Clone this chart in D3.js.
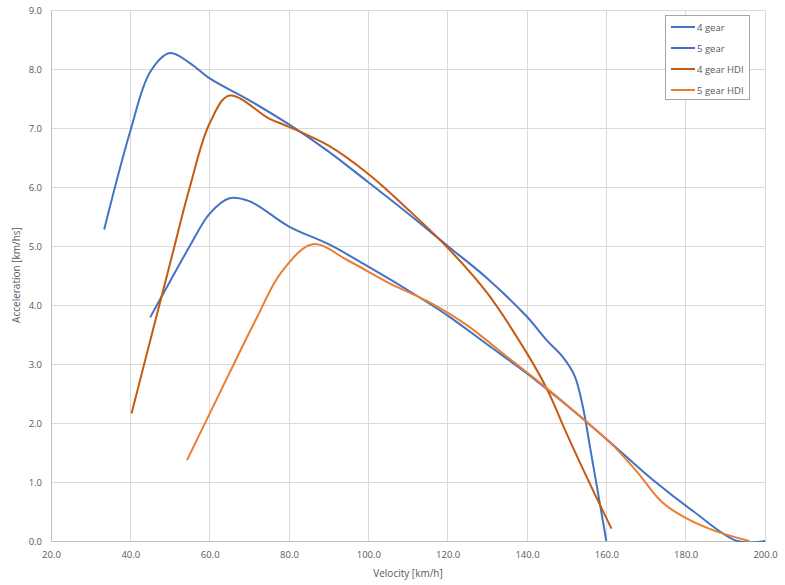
<!DOCTYPE html>
<html><head><meta charset="utf-8">
<script src="https://cdn.jsdelivr.net/npm/d3@7"></script>
<style>body{margin:0;background:#fff;} text{font-family:"Open Sans","Noto Sans",sans-serif;}</style>
</head><body><svg id="c" width="785" height="585"></svg>
<script>
const seriesNames = ["4 gear","5 gear","4 gear HDI","5 gear HDI"];
const seriesColors = ["#4472C4","#4472C4","#C55A11","#ED7D31"];
const gear4 = [[33.4,5.28],[40,6.95],[45,7.95],[50,8.27],[55,8.1],[60,7.84],[70,7.47],[80,7.06],[90,6.6],[100,6.08],[110,5.55],[120,5.0],[130,4.45],[140,3.8],[145,3.4],[149,3.12],[152,2.8],[154,2.3],[156,1.55],[160,0]];
const gear5 = [[45,3.79],[50,4.4],[55,5.0],[60,5.55],[65,5.81],[70,5.76],[80,5.33],[90,5.03],[100,4.65],[110,4.25],[120,3.82],[130,3.33],[140,2.84],[150,2.3],[160,1.73],[172,1.02],[182,0.5],[193,0],[200,0]];
const gear4HDI = [[40.3,2.16],[50,4.7],[55,6.0],[60,7.08],[65,7.55],[75,7.16],[80,7.02],[90,6.7],[100,6.22],[110,5.62],[120,4.97],[130,4.2],[140,3.18],[145,2.58],[150,1.82],[155,1.09],[161.3,0.21]];
const gear5HDI = [[54.3,1.37],[65,2.85],[72,3.8],[78,4.55],[86,5.03],[95,4.75],[105,4.38],[115,4.06],[125,3.65],[135,3.12],[145,2.59],[155,2.02],[162,1.6],[168,1.15],[174,0.66],[180,0.39],[187,0.18],[196,0]];
const xTicks = [20,40,60,80,100,120,140,160,180,200];
const yTicks = [0,1,2,3,4,5,6,7,8,9];
const allSeries = [gear4, gear5, gear4HDI, gear5HDI];

const svg = d3.select("#c");
const x = d3.scaleLinear().domain([20,200]).range([51,765]);
const y = d3.scaleLinear().domain([0,9]).range([541,10]);

svg.append("defs").append("clipPath").attr("id","plotclip").append("rect")
  .attr("x",x(20)).attr("y",y(9)-5).attr("width",x(200)-x(20)+3).attr("height",y(0)-y(9)+6);

// grid
svg.append("g").selectAll("line.v").data(xTicks.slice(1)).join("line")
  .attr("x1",d=>x(d)).attr("x2",d=>x(d)).attr("y1",y(0)).attr("y2",y(9))
  .attr("stroke","#d9d9d9").attr("stroke-width",1).attr("shape-rendering","crispEdges");
svg.append("g").selectAll("line.h").data(yTicks.slice(1)).join("line")
  .attr("x1",x(20)).attr("x2",x(200)).attr("y1",d=>y(d)).attr("y2",d=>y(d))
  .attr("stroke","#d9d9d9").attr("stroke-width",1).attr("shape-rendering","crispEdges");

// axes
const xAxis = svg.append("g").attr("transform",`translate(0,${y(0)})`)
  .call(d3.axisBottom(x).tickValues(xTicks).tickFormat(d3.format(".1f")).tickSize(0).tickPadding(10));
const yAxis = svg.append("g").attr("transform",`translate(${x(20)},0)`)
  .call(d3.axisLeft(y).tickValues(yTicks).tickFormat(d3.format(".1f")).tickSize(0).tickPadding(9));
[xAxis,yAxis].forEach(a=>{
  a.select(".domain").attr("stroke","#bfbfbf").attr("shape-rendering","crispEdges");
  a.selectAll("text").attr("fill","#595959").style("font-size","9.5px").style("font-family","'Open Sans','Noto Sans',sans-serif");
});

// lines
const line = d3.line().x(d=>x(d[0])).y(d=>y(d[1])).curve(d3.curveCatmullRom.alpha(0.5));
svg.append("g").attr("clip-path","url(#plotclip)").selectAll("path").data(allSeries).join("path")
  .attr("d",line).attr("fill","none")
  .attr("stroke",(d,i)=>seriesColors[i]).attr("stroke-width",2).attr("stroke-linejoin","round");

// axis titles
svg.append("text").attr("x",408).attr("y",577).attr("text-anchor","middle")
  .attr("fill","#595959").style("font-size","10px").text("Velocity [km/h]");
svg.append("text").attr("transform","translate(20,275) rotate(-90)").attr("text-anchor","middle")
  .attr("fill","#595959").style("font-size","10px").text("Acceleration [km/hs]");

// legend
const lg = svg.append("g");
lg.append("rect").attr("x",665.5).attr("y",15.5).attr("width",84).attr("height",84)
  .attr("fill","#fff").attr("stroke","#a6a6a6");
seriesNames.forEach((n,i)=>{
  const yy = 27 + i*21;
  lg.append("line").attr("x1",671).attr("x2",695).attr("y1",yy).attr("y2",yy)
    .attr("stroke",seriesColors[i]).attr("stroke-width",2);
  lg.append("text").attr("x",697).attr("y",yy+3.5).attr("fill","#595959")
    .style("font-size","9.5px").text(n);
});
</script></body></html>
